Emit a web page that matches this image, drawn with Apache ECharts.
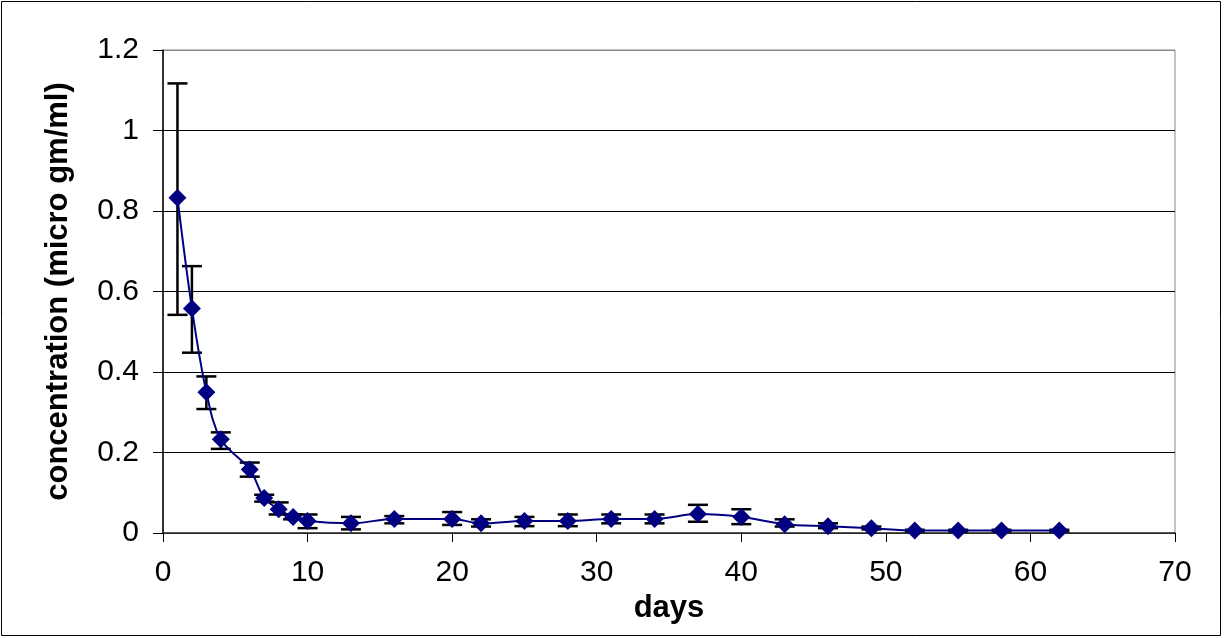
<!DOCTYPE html>
<html>
<head>
<meta charset="utf-8">
<script src="https://cdn.jsdelivr.net/npm/echarts@6/dist/echarts.min.js"></script>
<style>
html,body{margin:0;padding:0;background:#fff;}
#chart{width:1225px;height:638px;}
</style>
</head>
<body>
<div id="chart"></div>
<script>
// ---- data ----
const days = [1, 2, 3, 4, 6, 7, 8, 9, 10, 13, 16, 20, 22, 25, 28, 31, 34, 37, 40, 43, 46, 49, 52, 55, 58, 62];
const concentration = [0.833, 0.558, 0.350, 0.233, 0.158, 0.087, 0.059, 0.040, 0.030, 0.024, 0.035, 0.035, 0.024, 0.030, 0.030, 0.035, 0.035, 0.047, 0.040, 0.022, 0.017, 0.012, 0.006, 0.006, 0.006, 0.006];
const errUpper = [1.117, 0.663, 0.389, 0.250, 0.175, 0.095, 0.076, 0.046, 0.046, 0.040, 0.042, 0.052, 0.034, 0.040, 0.046, 0.046, 0.046, 0.070, 0.059, 0.034, 0.024, 0.016, 0.008, 0.008, 0.008, 0.008];
const errLower = [0.542, 0.448, 0.308, 0.209, 0.140, 0.078, 0.046, 0.034, 0.012, 0.009, 0.024, 0.020, 0.016, 0.017, 0.017, 0.024, 0.024, 0.028, 0.022, 0.016, 0.012, 0.009, 0.004, 0.004, 0.004, 0.004];
const xTitle = 'days';
const yTitle = 'concentration (micro gm/ml)';

const lineData = days.map((d, i) => [d, concentration[i]]);
const errData = days.map((d, i) => [d, errLower[i], errUpper[i]]);

const chart = echarts.init(document.getElementById('chart'), null, {renderer: 'canvas'});
const FONT = 'Liberation Sans, Arial, sans-serif';

chart.setOption({
  backgroundColor: '#fff',
  animation: false,
  grid: {
    left: 163, right: 50, top: 50, bottom: 105,
    containLabel: false, outerBoundsMode: 'none',
    show: true, borderColor: '#888', borderWidth: 1, backgroundColor: 'transparent'
  },
  graphic: [{
    type: 'rect', z: 100, silent: true,
    shape: {x: 1.5, y: 1.5, width: 1219, height: 634},
    style: {fill: 'none', stroke: '#000', lineWidth: 1}
  }],
  xAxis: {
    type: 'value', min: 0, max: 70, interval: 10,
    name: xTitle, nameLocation: 'middle', nameGap: 58,
    nameTextStyle: {fontFamily: FONT, fontSize: 31, fontWeight: 'bold', color: '#000'},
    axisLine: {show: true, onZero: false, lineStyle: {color: '#333', width: 1.5}},
    axisTick: {show: true, length: 9, lineStyle: {color: '#000', width: 1}},
    axisLabel: {fontFamily: FONT, fontSize: 30, color: '#000', margin: 25},
    splitLine: {show: false}
  },
  yAxis: {
    type: 'value', min: 0, max: 1.2, interval: 0.2,
    name: yTitle, nameLocation: 'middle', nameGap: 89, nameRotate: 90,
    nameTextStyle: {fontFamily: FONT, fontSize: 31, fontWeight: 'bold', color: '#000'},
    axisLine: {show: true, lineStyle: {color: '#000', width: 1.5}},
    axisTick: {show: true, length: 10, lineStyle: {color: '#000', width: 1}},
    axisLabel: {fontFamily: FONT, fontSize: 30, color: '#000', margin: 24},
    splitLine: {show: true, lineStyle: {color: ['#000', '#000', '#000', '#000', '#000', '#000', '#888'], width: 1}}
  },
  series: [
    {
      type: 'custom',
      z: 2,
      data: errData,
      encode: {x: 0, y: [1, 2]},
      renderItem: function (params, api) {
        const x = api.value(0);
        const lo = api.coord([x, api.value(1)]);
        const hi = api.coord([x, api.value(2)]);
        const hw = 10;
        const st = {stroke: '#000', lineWidth: 2.5};
        return {
          type: 'group',
          children: [
            {type: 'line', shape: {x1: lo[0], y1: lo[1], x2: hi[0], y2: hi[1]}, style: st},
            {type: 'line', shape: {x1: hi[0] - hw, y1: hi[1], x2: hi[0] + hw, y2: hi[1]}, style: st},
            {type: 'line', shape: {x1: lo[0] - hw, y1: lo[1], x2: lo[0] + hw, y2: lo[1]}, style: st}
          ]
        };
      }
    },
    {
      type: 'line',
      z: 3,
      data: lineData,
      smooth: 0.35,
      symbol: 'diamond',
      symbolSize: 18,
      lineStyle: {color: '#000080', width: 2},
      itemStyle: {color: '#000080', borderWidth: 0}
    }
  ]
});
</script>
</body>
</html>
